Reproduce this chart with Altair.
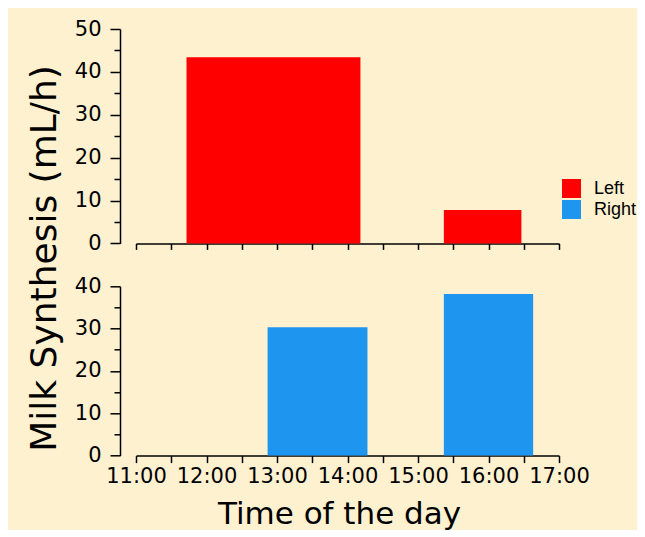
import altair as alt
import pandas as pd

# ---- data ----
sides = ["Left", "Right"]
side_colors = ["#FF0000", "#1E96F0"]

left_start = ["11:43", "15:22"]
left_end = ["14:11", "16:28"]
left_values = [43.4, 7.8]

right_start = ["12:52", "15:22"]
right_end = ["14:17", "16:38"]
right_values = [30.3, 38.2]

x_tick_labels = ["11:00", "12:00", "13:00", "14:00", "15:00", "16:00", "17:00"]
top_y_labels = [0, 10, 20, 30, 40, 50]
bottom_y_labels = [0, 10, 20, 30, 40]


def hours(s):
    h, m = s.split(":")
    return int(h) + int(m) / 60.0


df_left = pd.DataFrame({
    "start": [hours(s) for s in left_start],
    "end": [hours(s) for s in left_end],
    "value": left_values,
    "side": ["Left"] * len(left_values),
})
df_right = pd.DataFrame({
    "start": [hours(s) for s in right_start],
    "end": [hours(s) for s in right_end],
    "value": right_values,
    "side": ["Right"] * len(right_values),
})

major_hours = [hours(s) for s in x_tick_labels]
x_tick_values = sorted(set(major_hours + [h + 0.5 for h in major_hours[:-1]]))
top_y_ticks = sorted(set(top_y_labels + [v + 5 for v in top_y_labels[:-1]]))
bottom_y_ticks = sorted(set(bottom_y_labels + [v + 5 for v in bottom_y_labels[:-1]]))

FONT = "DejaVu Sans"
BG = "#FDF1D0"
W = 423

xscale = alt.Scale(domain=[major_hours[0], major_hours[-1]], nice=False, zero=False)
color_scale = alt.Scale(domain=sides, range=side_colors)

ytick_size = {"condition": {"test": "datum.value % 10 == 0", "value": 10}, "value": 6}
ylabel_expr = "datum.value % 10 == 0 ? datum.label : ''"

top = alt.Chart(df_left).mark_rect().encode(
    x=alt.X("start:Q", scale=xscale,
            axis=alt.Axis(values=x_tick_values, labels=False, title=None, grid=False,
                          tickSize=6, domainColor="black", tickColor="black",
                          domainWidth=1.5, tickWidth=1.5)),
    x2="end:Q",
    y=alt.Y("value:Q", scale=alt.Scale(domain=[0, 50], nice=False),
            axis=alt.Axis(values=top_y_ticks, labelExpr=ylabel_expr, grid=False,
                          offset=16, tickSize=ytick_size, labelOverlap=False,
                          labelFont=FONT, labelFontSize=21, labelColor="black",
                          labelPadding=9,
                          domainColor="black", tickColor="black",
                          domainWidth=1.5, tickWidth=1.5,
                          title="Milk Synthesis (mL/h)", titleFont=FONT,
                          titleFontSize=36, titleFontWeight="normal", titleColor="black",
                          titleAngle=270, titleAlign="center", titleBaseline="alphabetic",
                          titleX=-65, titleY=229)),
    y2=alt.datum(0),
    color=alt.Color("side:N", scale=color_scale,
                    legend=alt.Legend(orient="none", legendX=426, legendY=150,
                                      title=None, symbolType="square", symbolSize=360,
                                      symbolStrokeWidth=0, labelFont="Liberation Sans",
                                      labelFontSize=18, labelColor="black",
                                      labelOffset=13, rowPadding=2)),
).properties(width=W, height=214.4)

bottom = alt.Chart(df_right).mark_rect().encode(
    x=alt.X("start:Q", scale=xscale,
            axis=alt.Axis(values=x_tick_values,
                          labelExpr="datum.value % 1 == 0 ? format(datum.value, 'd') + ':00' : ''",
                          labelOverlap=False, labelFlush=False,
                          grid=False, tickSize=7, labelFont=FONT, labelFontSize=21,
                          labelColor="black", labelPadding=3,
                          domainColor="black", tickColor="black",
                          domainWidth=1.5, tickWidth=1.5,
                          title="Time of the day", titleFont=FONT, titleFontSize=31,
                          titleFontWeight="normal", titleColor="black",
                          titleAlign="center", titleBaseline="alphabetic",
                          titleX=203, titleY=68)),
    x2="end:Q",
    y=alt.Y("value:Q", scale=alt.Scale(domain=[0, 40], nice=False),
            axis=alt.Axis(values=bottom_y_ticks, labelExpr=ylabel_expr, grid=False,
                          offset=16, tickSize=ytick_size, labelOverlap=False,
                          labelFont=FONT, labelFontSize=21, labelColor="black",
                          labelPadding=9,
                          domainColor="black", tickColor="black",
                          domainWidth=1.5, tickWidth=1.5, title=None)),
    y2=alt.datum(0),
    color=alt.Color("side:N", scale=color_scale),
).properties(width=W, height=169.3)

chart = alt.vconcat(top, bottom, spacing=42.3, bounds="flush").properties(
    background=BG,
    padding={"left": 17, "top": 10, "right": 0, "bottom": 0},
).configure_view(stroke=None)

chart.save("out.html", embed_options={"renderer": "svg", "actions": False})
